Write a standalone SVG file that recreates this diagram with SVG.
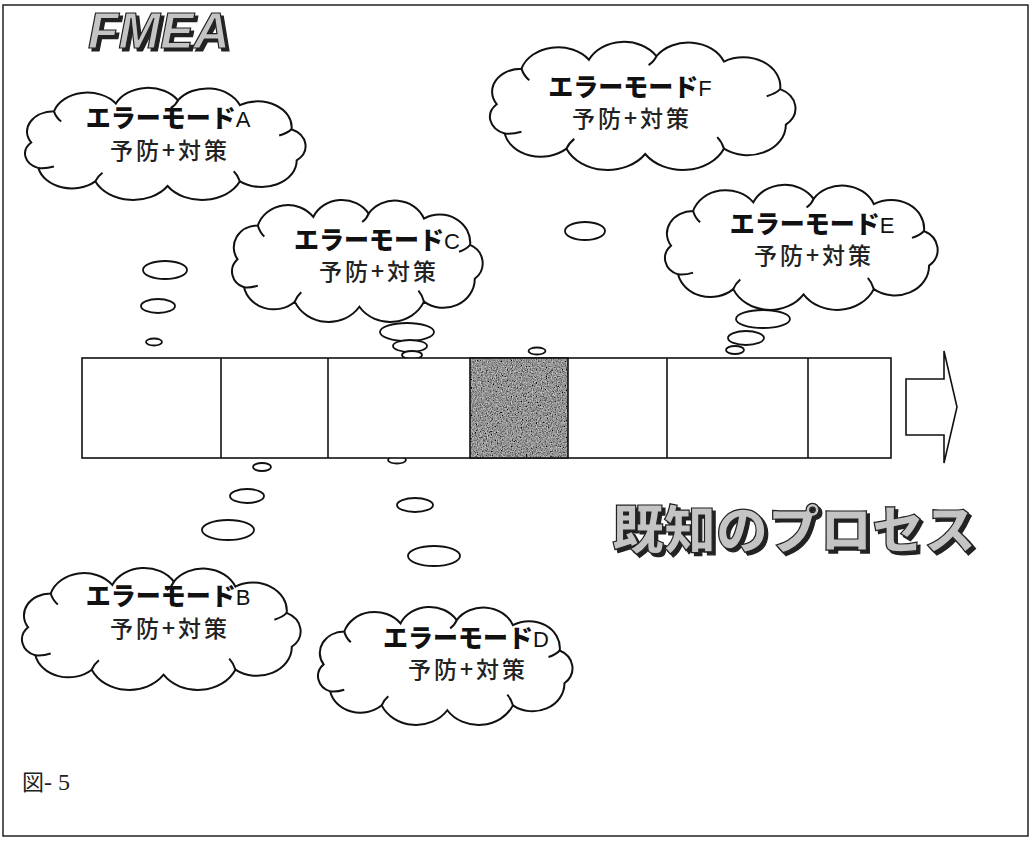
<svg xmlns="http://www.w3.org/2000/svg" xmlns:xlink="http://www.w3.org/1999/xlink" width="1031" height="846" viewBox="0 0 1031 846">
<style>
.ol{fill:#fff;stroke:#111;stroke-width:2}
.bub{fill:#fff;stroke:#111;stroke-width:1.8}
.l1{font-family:"Noto Sans CJK JP",sans-serif;font-size:25px;font-weight:900;fill:#111;text-anchor:middle}
.let{font-family:"Liberation Sans",sans-serif;font-weight:normal;font-size:22px}
.l2{font-family:"Noto Sans CJK JP",sans-serif;font-size:23px;font-weight:500;fill:#222;text-anchor:middle;letter-spacing:3px}
.cell{fill:#fff;stroke:#111;stroke-width:1.6}
.big{font-weight:900;fill:#c4c4c4;stroke:#222;stroke-width:1.2}
</style>
<defs>
<g id="cloud">
<path vector-effect="non-scaling-stroke" class="ol" d="M28,62 A26,26 0 0 1 50,22 A34,34 0 0 1 110,12 A34,34 0 0 1 170,8 A34,34 0 0 1 230,14 A33,33 0 0 1 280,45 A24,24 0 0 1 285,85 A34,34 0 0 1 230,112 A40,40 0 0 1 160,118 A40,40 0 0 1 90,112 A33,33 0 0 1 35,95 A20,20 0 0 1 28,62 Z"/>
<path vector-effect="non-scaling-stroke" fill="none" stroke="#111" stroke-width="2" d="M280,45 Q276,50 268,53 M230,112 Q228,104 224,99 M90,112 Q92,106 97,101 M35,95 Q42,96 50,93 M50,22 Q52,30 57,35 M170,8 Q168,14 163,18"/>
</g>
<filter id="grain" x="0" y="0" width="100%" height="100%">
<feTurbulence type="fractalNoise" baseFrequency="0.8" numOctaves="2" seed="5" result="n"/>
<feColorMatrix in="n" type="matrix" values="0.33 0.33 0.33 0 0  0.33 0.33 0.33 0 0  0.33 0.33 0.33 0 0  0 0 0 0 1" result="g"/>
<feComponentTransfer in="g" result="c">
<feFuncR type="linear" slope="1.8" intercept="-0.6"/>
<feFuncG type="linear" slope="1.8" intercept="-0.6"/>
<feFuncB type="linear" slope="1.8" intercept="-0.6"/>
</feComponentTransfer>
<feComposite in="c" in2="SourceGraphic" operator="in"/>
</filter>
<filter id="shadow" x="-10%" y="-20%" width="130%" height="150%">
<feDropShadow dx="3" dy="3" stdDeviation="0.4" flood-color="#222" flood-opacity="1"/>
</filter>
</defs>
<rect x="0" y="0" width="1031" height="846" fill="#fff"/>
<rect x="3" y="5" width="1025" height="831" fill="none" stroke="#222" stroke-width="1.5"/>

<g id="title-fmea">
<text x="88" y="48" class="big" filter="url(#shadow)" font-family="Liberation Sans,sans-serif" font-size="50" font-style="italic">FMEA</text>
</g>

<g id="connectors">
<ellipse class="bub" cx="165" cy="270" rx="22" ry="9"/>
<ellipse class="bub" cx="158" cy="306" rx="17" ry="7"/>
<ellipse class="bub" cx="154" cy="342" rx="8" ry="3.5"/>
<ellipse class="bub" cx="407" cy="332" rx="27" ry="9"/>
<ellipse class="bub" cx="410" cy="346" rx="17" ry="6"/>
<ellipse class="bub" cx="412" cy="355" rx="10" ry="4"/>
<ellipse class="bub" cx="763" cy="319" rx="27" ry="9"/>
<ellipse class="bub" cx="746" cy="338" rx="18" ry="7"/>
<ellipse class="bub" cx="735" cy="350" rx="9" ry="4"/>
<ellipse class="bub" cx="585" cy="231" rx="20" ry="9"/>
<ellipse class="bub" cx="537" cy="351" rx="8.5" ry="3.5"/>
<ellipse class="bub" cx="262" cy="467" rx="9" ry="4"/>
<ellipse class="bub" cx="247" cy="496" rx="17" ry="7"/>
<ellipse class="bub" cx="228" cy="530" rx="26" ry="10"/>
<ellipse class="bub" cx="397" cy="460" rx="9" ry="3.5"/>
<ellipse class="bub" cx="415" cy="505" rx="18" ry="7"/>
<ellipse class="bub" cx="434" cy="556" rx="26" ry="10"/>
</g>

<g id="cloud-a">
<use xlink:href="#cloud" transform="translate(2.3,94.2) scale(1.033,0.778)"/>
<text class="l1" x="168" y="127">エラーモード<tspan class="let">A</tspan></text>
<text class="l2" x="170" y="159">予防+対策</text>
</g>
<g id="cloud-f">
<use xlink:href="#cloud" transform="translate(465.2,49.1) scale(1.125,0.889)"/>
<text class="l1" x="630" y="96">エラーモード<tspan class="let">F</tspan></text>
<text class="l2" x="632" y="127">予防+対策</text>
</g>
<g id="cloud-c">
<use xlink:href="#cloud" transform="translate(211.7,206.8) scale(0.923,0.847)"/>
<text class="l1" x="377" y="249">エラーモード<tspan class="let">C</tspan></text>
<text class="l2" x="379" y="280">予防+対策</text>
</g>
<g id="cloud-e">
<use xlink:href="#cloud" transform="translate(642.9,191.9) scale(1.004,0.868)"/>
<text class="l1" x="812" y="233">エラーモード<tspan class="let">E</tspan></text>
<text class="l2" x="814" y="264">予防+対策</text>
</g>
<g id="cloud-b">
<use xlink:href="#cloud" transform="translate(-0.6,574.8) scale(1.026,0.847)"/>
<text class="l1" x="168" y="605">エラーモード<tspan class="let">B</tspan></text>
<text class="l2" x="170" y="637">予防+対策</text>
</g>
<g id="cloud-d">
<use xlink:href="#cloud" transform="translate(297.4,613.6) scale(0.937,0.819)"/>
<text class="l1" x="466" y="647">エラーモード<tspan class="let">D</tspan></text>
<text class="l2" x="468" y="678">予防+対策</text>
</g>

<g id="process-bar">
<rect class="cell" x="82" y="358" width="809" height="100"/>
<rect x="470" y="358" width="98" height="100" fill="#666" filter="url(#grain)"/>
<rect x="470" y="358" width="98" height="100" fill="none" stroke="#111" stroke-width="1.6"/>
<line x1="221" y1="358" x2="221" y2="458" stroke="#111" stroke-width="1.6"/>
<line x1="328" y1="358" x2="328" y2="458" stroke="#111" stroke-width="1.6"/>
<line x1="667" y1="358" x2="667" y2="458" stroke="#111" stroke-width="1.6"/>
<line x1="808" y1="358" x2="808" y2="458" stroke="#111" stroke-width="1.6"/>
</g>

<g id="arrow">
<polygon points="906,379 944,379 944,351 957,407 944,463 944,435 906,435" fill="#fff" stroke="#111" stroke-width="1.6"/>
</g>

<g id="title-process">
<text x="612" y="549" class="big" filter="url(#shadow)" font-family="Noto Sans CJK JP,sans-serif" font-size="52">既知のプロセス</text>
</g>

<g id="fig-label">
<text x="22" y="790" font-family="Liberation Serif,Noto Sans CJK JP,serif" font-size="24" fill="#222"><tspan font-family="Noto Sans CJK JP,sans-serif" font-size="22">図</tspan>- 5</text>
</g>
</svg>
